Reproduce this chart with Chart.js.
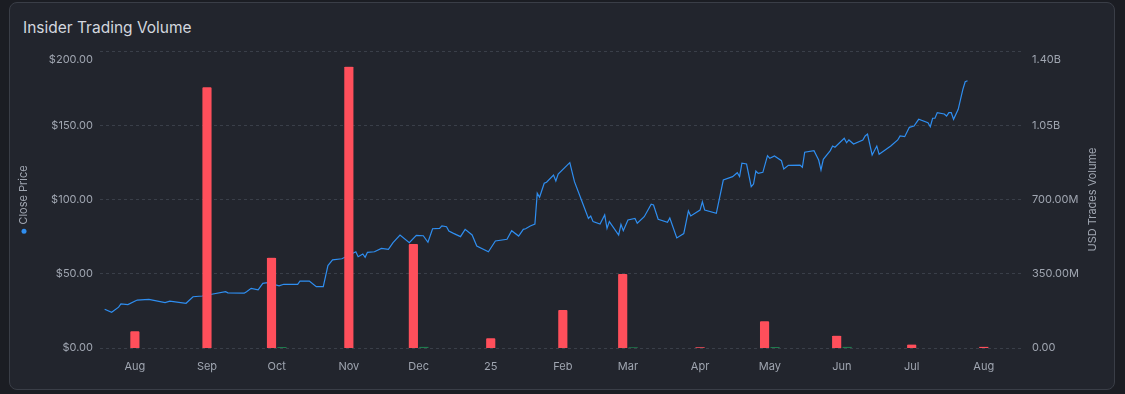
<!DOCTYPE html>
<html>
<head>
<meta charset="utf-8">
<script src="https://cdn.jsdelivr.net/npm/chart.js@4.4.1/dist/chart.umd.min.js"></script>
<style>
  html, body { margin: 0; padding: 0; background: #1b1d23; }
  body { width: 1125px; height: 394px; position: relative; overflow: hidden; font-family: Inter, "Noto Sans", sans-serif; }
  .card { position: absolute; left: 9px; top: 2px; width: 1104px; height: 386px; background: #22252d; border: 1px solid #3a3e47; border-radius: 8px; }
  .title { position: absolute; left: 23px; top: 19px; color: #d3d7df; font-size: 15.5px; line-height: 18px; }
  #chart { position: absolute; left: 0; top: 0; }
</style>
</head>
<body>
<div class="card"></div>
<div class="title">Insider Trading Volume</div>
<canvas id="chart" width="1125" height="394"></canvas>
<script>
// daily close price
const priceDates = [
  '2024-07-19','2024-07-22','2024-07-25','2024-07-26','2024-07-29','2024-08-02','2024-08-07','2024-08-14','2024-08-16','2024-08-23',
  '2024-08-26','2024-08-30','2024-09-03','2024-09-09','2024-09-10','2024-09-17','2024-09-18','2024-09-20','2024-09-23','2024-09-25',
  '2024-09-27','2024-10-02','2024-10-04','2024-10-10','2024-10-11','2024-10-15','2024-10-18','2024-10-21','2024-10-23','2024-10-25',
  '2024-10-29','2024-11-04','2024-11-05','2024-11-07','2024-11-08','2024-11-09','2024-11-12','2024-11-15','2024-11-18','2024-11-20',
  '2024-11-23','2024-11-27','2024-11-30','2024-12-03','2024-12-05','2024-12-07','2024-12-10','2024-12-11','2024-12-13','2024-12-14',
  '2024-12-16','2024-12-19','2024-12-21','2024-12-24','2024-12-26','2024-12-31','2025-01-03','2025-01-08','2025-01-10','2025-01-13',
  '2025-01-15','2025-01-16','2025-01-18','2025-01-20','2025-01-21','2025-01-22','2025-01-24','2025-01-25','2025-01-28','2025-01-29',
  '2025-01-30','2025-02-04','2025-02-06','2025-02-09','2025-02-12','2025-02-13','2025-02-14','2025-02-17','2025-02-19','2025-02-20',
  '2025-02-21','2025-02-25','2025-02-26','2025-02-27','2025-03-01','2025-03-04','2025-03-05','2025-03-08','2025-03-11','2025-03-12',
  '2025-03-14','2025-03-18','2025-03-19','2025-03-22','2025-03-25','2025-03-27','2025-03-28','2025-04-01','2025-04-02','2025-04-03',
  '2025-04-08','2025-04-11','2025-04-15','2025-04-17','2025-04-18','2025-04-19','2025-04-21','2025-04-23','2025-04-24','2025-04-25',
  '2025-04-26','2025-04-28','2025-04-30','2025-05-01','2025-05-03','2025-05-06','2025-05-07','2025-05-09','2025-05-14','2025-05-15',
  '2025-05-16','2025-05-20','2025-05-22','2025-05-23','2025-05-24','2025-05-27','2025-05-28','2025-05-29','2025-06-02','2025-06-03',
  '2025-06-04','2025-06-06','2025-06-10','2025-06-11','2025-06-12','2025-06-14','2025-06-16','2025-06-17','2025-06-22','2025-06-25',
  '2025-06-26','2025-06-28','2025-06-30','2025-07-02','2025-07-04','2025-07-08','2025-07-09','2025-07-10','2025-07-11','2025-07-12',
  '2025-07-15','2025-07-16','2025-07-17','2025-07-18','2025-07-19','2025-07-21','2025-07-23','2025-07-24','2025-07-25'
];
const closePrices = [
  26.1, 24.1, 27.5, 29.7, 29.2, 32.3, 32.8, 30.6, 31.6, 30.1,
  34.5, 35.0, 36.2, 37.9, 37.1, 36.9, 37.9, 40.2, 39.1, 43.5,
  44.0, 41.8, 42.9, 42.9, 45.1, 45.1, 41.3, 41.3, 55.5, 59.3,
  60.1, 64.8, 61.5, 63.3, 61.1, 64.4, 64.8, 67.1, 66.5, 70.9,
  76.1, 70.9, 75.9, 75.6, 71.2, 80.3, 80.6, 82.2, 81.7, 78.8,
  77.2, 75.0, 79.9, 76.1, 68.7, 64.8, 72.1, 73.2, 79.0, 75.4,
  79.9, 80.3, 82.2, 83.5, 104.2, 101.5, 110.9, 111.6, 116.5, 112.5,
  117.2, 124.8, 112.0, 99.7, 87.3, 88.9, 85.1, 83.5, 89.6, 80.6,
  85.1, 76.1, 83.3, 79.0, 86.2, 87.3, 84.0, 88.4, 96.8, 96.3,
  86.7, 84.6, 87.5, 74.1, 77.1, 92.3, 88.9, 92.9, 98.5, 92.9,
  90.7, 113.1, 115.4, 118.0, 115.4, 124.4, 123.9, 108.6, 110.4, 119.2,
  117.6, 118.3, 129.5, 127.7, 129.3, 126.1, 120.5, 123.0, 123.2, 121.7,
  131.8, 132.9, 126.6, 119.9, 127.1, 132.9, 136.0, 135.2, 141.2, 138.2,
  140.1, 137.4, 140.1, 142.8, 144.1, 130.0, 136.0, 130.4, 136.0, 140.1,
  142.8, 142.3, 148.6, 149.5, 154.0, 151.7, 149.0, 154.7, 154.7, 158.5,
  157.6, 156.2, 158.5, 158.5, 154.0, 160.7, 174.2, 179.3, 180.0
];

// monthly insider trades volume, USD millions
const volumeMonths = [
  '2024-08-01','2024-09-01','2024-10-01','2024-11-01','2024-12-01','2025-01-01','2025-02-01',
  '2025-03-01','2025-04-01','2025-05-01','2025-06-01','2025-07-01','2025-08-01'
];
const salesVolume = [79, 1229, 426, 1326, 490, 46, 179, 349, 4, 126, 58, 16, 6];
const purchaseVolume = [null, null, 5, null, 6, null, null, 4, null, 5, 6, null, null];

// x axis
const monthTicks = volumeMonths;
const monthLabels = ['Aug', 'Sep', 'Oct', 'Nov', 'Dec', '25', 'Feb', 'Mar', 'Apr', 'May', 'Jun', 'Jul', 'Aug'];
const xStart = '2024-07-17';
const xEnd = '2025-08-17';

const toTime = (s) => new Date(s + 'T00:00:00Z').getTime();

const tickColor = '#a0a6b1';
const tickFont = { family: 'Inter', size: 11, lineHeight: 1.5 };

const fmtVol = (v) => {
  if (v >= 1e9) return (v / 1e9).toFixed(2) + 'B';
  if (v >= 1e6) return (v / 1e6).toFixed(2) + 'M';
  return v.toFixed(2);
};

// the top label sits a bit under its grid line, like in the original
const pushTopDown = (label, v, max) => (v === max ? ['', label] : label);

// axis titles read bottom-to-top on both sides, left one has a coloured dot
const axisTitles = {
  id: 'axisTitles',
  afterDraw(chart) {
    const { ctx, chartArea } = chart;
    const midY = (chartArea.top + chartArea.bottom) / 2;
    ctx.save();
    ctx.font = '11px Inter';
    ctx.textBaseline = 'middle';

    ctx.save();
    ctx.translate(24, midY);
    ctx.rotate(-Math.PI / 2);
    const txt = 'Close Price';
    const w = ctx.measureText(txt).width;
    const total = w + 9;
    ctx.fillStyle = '#2f8ef0';
    ctx.beginPath();
    ctx.arc(-total / 2 + 2.5, 0, 2.5, 0, Math.PI * 2);
    ctx.fill();
    ctx.fillStyle = tickColor;
    ctx.textAlign = 'left';
    ctx.fillText(txt, -total / 2 + 9, 0);
    ctx.restore();

    ctx.save();
    ctx.translate(1093, midY);
    ctx.rotate(-Math.PI / 2);
    ctx.fillStyle = tickColor;
    ctx.textAlign = 'center';
    ctx.fillText('USD Trades Volume', 0, 0);
    ctx.restore();

    ctx.restore();
  }
};

const ctx = document.getElementById('chart').getContext('2d');
const chart = new Chart(ctx, {
  type: 'line',
  data: {
    datasets: [
      {
        type: 'bar',
        label: 'Sales',
        data: volumeMonths.map((m, i) => ({ x: toTime(m), y: salesVolume[i] * 1e6 })),
        yAxisID: 'vol',
        stack: 'sales',
        backgroundColor: '#ff4f5b',
        borderColor: 'rgba(0,0,0,0)',
        borderWidth: { left: 1, right: 1, top: 0, bottom: 0 },
        borderRadius: { topLeft: 2, topRight: 2 },
        borderSkipped: 'bottom',
        barThickness: 10.5,
        skipNull: true,
        order: 1
      },
      {
        type: 'bar',
        label: 'Purchases',
        data: volumeMonths.map((m, i) => ({ x: toTime(m), y: purchaseVolume[i] == null ? null : purchaseVolume[i] * 1e6 })),
        yAxisID: 'vol',
        stack: 'purchases',
        backgroundColor: '#1f7a4d',
        borderColor: 'rgba(0,0,0,0)',
        borderWidth: { left: 1, right: 1, top: 0, bottom: 0 },
        borderSkipped: 'bottom',
        barThickness: 10.5,
        skipNull: true,
        order: 1
      },
      {
        type: 'line',
        label: 'Close Price',
        data: priceDates.map((d, i) => ({ x: toTime(d), y: closePrices[i] })),
        yAxisID: 'y',
        borderColor: '#2f8ef0',
        borderWidth: 1.2,
        pointRadius: 0,
        tension: 0,
        order: 2
      }
    ]
  },
  options: {
    responsive: false,
    animation: false,
    layout: { padding: { left: 38, right: 44, top: 51, bottom: 14 } },
    plugins: {
      legend: { display: false },
      tooltip: { enabled: false }
    },
    scales: {
      x: {
        type: 'linear',
        offset: false,
        min: toTime(xStart),
        max: toTime(xEnd),
        afterBuildTicks: (scale) => {
          scale.ticks = monthTicks.map(m => ({ value: toTime(m) }));
        },
        afterFit: (scale) => { scale.height = 32; },
        ticks: {
          autoSkip: false,
          maxRotation: 0,
          padding: 12,
          color: tickColor,
          font: { family: 'Inter', size: 11 },
          callback: (v, i) => monthLabels[i]
        },
        grid: { display: false, drawTicks: false, offset: false },
        border: { display: false }
      },
      y: {
        position: 'left',
        min: 0,
        max: 200,
        afterFit: (scale) => { scale.width = 62; },
        ticks: {
          stepSize: 50,
          padding: 7,
          color: tickColor,
          font: tickFont,
          callback: (v) => pushTopDown('$' + v.toFixed(2), v, 200)
        },
        grid: { color: '#3a3f49', lineWidth: 1, drawTicks: false },
        border: { display: false, dash: [3, 3] }
      },
      vol: {
        position: 'right',
        min: 0,
        max: 1.4e9,
        afterFit: (scale) => { scale.width = 60; },
        ticks: {
          stepSize: 3.5e8,
          padding: 11,
          color: tickColor,
          font: tickFont,
          callback: (v) => pushTopDown(fmtVol(v), v, 1.4e9)
        },
        grid: { display: false, drawTicks: false },
        border: { display: false }
      }
    }
  },
  plugins: [axisTitles]
});
</script>
</body>
</html>
